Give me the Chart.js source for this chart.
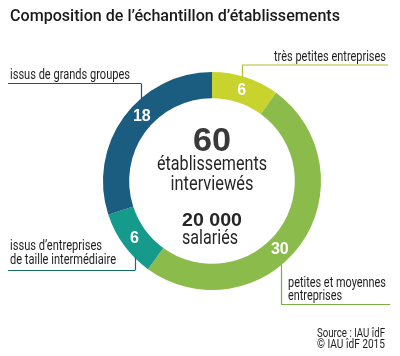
<!DOCTYPE html>
<html><head><meta charset="utf-8">
<script src="https://cdn.jsdelivr.net/npm/chart.js@4/dist/chart.umd.min.js"></script>
<style>html,body{margin:0;padding:0;background:#fff;}#wrap{position:relative;width:400px;height:356px;}</style>
</head><body><div id="wrap"><canvas id="c" width="400" height="356"></canvas></div>
<script>
const categories = ['très petites entreprises', 'petites et moyennes entreprises', 'issus d’entreprises de taille intermédiaire', 'issus de grands groupes'];
const values = [6, 30, 6, 18];
const labelLines = [['très petites entreprises'], ['petites et moyennes', 'entreprises'], ['issus d’entreprises', 'de taille intermédiaire'], ['issus de grands groupes']];
const titleText = 'Composition de l’échantillon d’établissements';
const centerLines = ['60', 'établissements', 'interviewés', '20 000', 'salariés'];
const sourceLines = ['Source : IAU îdF', '© IAU îdF 2015'];

const colors = ['#c9d32d', '#8bbc4b', '#169a8b', '#1a5d80'];
const lineColors = ['#b6be2c', '#7aad45', '#17705f', '#1a5278'];
const FONT = 'Roboto, "Liberation Sans", sans-serif';
const SANS = '"Liberation Sans", Arial, sans-serif';

// callout layout (decoration only): leader x, horizontal line, text anchor/baselines/widths
const callouts = [
  {vx: 242, hy: 65, hx1: 242, hx2: 388, side: 'top', tx: 386, ty: [61], tw: [112], align: 'right'},
  {vx: 281, hy: 304.5, hx1: 281, hx2: 390, side: 'bottom', tx: 288, ty: [286.5, 299.5], tw: [98, 54], align: 'left'},
  {vx: 135, hy: 270.5, hx1: 8, hx2: 135, side: 'bottom', tx: 10, ty: [250, 264], tw: [92, 106], align: 'left'},
  {vx: 141, hy: 83.5, hx1: 8, hx2: 141, side: 'top', tx: 10, ty: [79], tw: [120], align: 'left'}
];
const valueLabelFrac = [0.5, 0.55, 0.5, 0.565];

function txt(ctx, s, x, y, font, align, w) {
  ctx.font = font;
  const m = ctx.measureText(s).width;
  const sx = w ? w / m : 1;
  ctx.save();
  ctx.translate(x, y);
  ctx.scale(sx, 1);
  ctx.textAlign = align;
  ctx.fillText(s, 0, 0);
  ctx.restore();
}

const decor = {
  id: 'decor',
  afterDatasetsDraw(chart) {
    const ctx = chart.ctx;
    const meta = chart.getDatasetMeta(0);
    ctx.save();
    ctx.textBaseline = 'alphabetic';
    // title
    ctx.fillStyle = '#1a1a1a';
    txt(ctx, titleText, 10, 21, '500 17px ' + FONT, 'left', 330);
    meta.data.forEach((arc, i) => {
      const p = arc.getProps(['x', 'y', 'startAngle', 'endAngle', 'innerRadius', 'outerRadius'], true);
      const a = p.startAngle + (p.endAngle - p.startAngle) * valueLabelFrac[i];
      const r = (p.innerRadius + p.outerRadius) / 2;
      ctx.fillStyle = '#ffffff';
      ctx.textBaseline = 'middle';
      ctx.font = 'bold 16px ' + SANS;
      ctx.textAlign = 'center';
      ctx.fillText(String(values[i]), p.x + r * Math.cos(a), p.y + r * Math.sin(a) + 1);
      ctx.textBaseline = 'alphabetic';
      // callouts
      const c = callouts[i];
      const dx = c.vx - p.x;
      const dy = Math.sqrt(Math.max(p.outerRadius * p.outerRadius - dx * dx, 0));
      const edgeY = c.side === 'top' ? p.y - dy + 1 : p.y + dy - 1;
      ctx.strokeStyle = lineColors[i];
      ctx.lineWidth = 1.2;
      ctx.beginPath();
      ctx.moveTo(c.hx1, c.hy);
      ctx.lineTo(c.hx2, c.hy);
      ctx.moveTo(c.vx + 0.5, c.hy);
      ctx.lineTo(c.vx + 0.5, edgeY);
      ctx.stroke();
      ctx.fillStyle = '#1e1e1e';
      labelLines[i].forEach((t, k) => txt(ctx, t, c.tx, c.ty[k], '14px ' + FONT, c.align, c.tw[k]));
    });
    // center text
    const cx = meta.data[0].x;
    ctx.fillStyle = '#3a3a3a';
    txt(ctx, centerLines[0], cx, 151, 'bold 34px ' + SANS, 'center', 38);
    ctx.fillStyle = '#262626';
    txt(ctx, centerLines[1], cx, 170, '20px ' + FONT, 'center', 110);
    txt(ctx, centerLines[2], cx, 190, '20px ' + FONT, 'center', 83);
    txt(ctx, centerLines[3], cx, 225.5, 'bold 19px ' + SANS, 'center', 60);
    txt(ctx, centerLines[4], cx - 2, 244, '20px ' + FONT, 'center', 56);
    // source
    ctx.fillStyle = '#1e1e1e';
    txt(ctx, sourceLines[0], 385, 337, '12px ' + FONT, 'right', 68);
    txt(ctx, sourceLines[1], 385, 348, '12px ' + FONT, 'right', 68);
    ctx.restore();
  }
};

new Chart(document.getElementById('c'), {
  type: 'doughnut',
  data: {
    labels: categories,
    datasets: [{data: values, backgroundColor: colors, borderWidth: 0, hoverOffset: 0}]
  },
  options: {
    responsive: false,
    animation: false,
    cutout: '76%',
    rotation: 0,
    layout: {padding: {left: 103, right: 79, top: 72, bottom: 66}},
    plugins: {legend: {display: false}, tooltip: {enabled: false}, title: {display: false}},
    events: []
  },
  plugins: [decor]
});
</script></body></html>
